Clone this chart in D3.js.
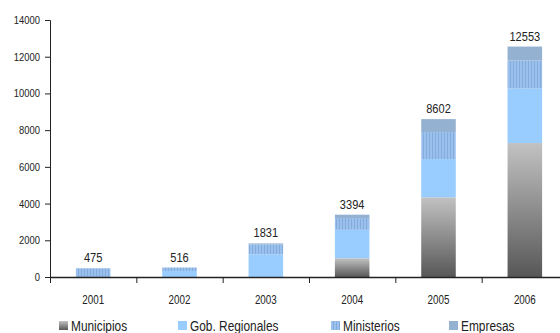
<!DOCTYPE html>
<html>
<head>
<meta charset="utf-8">
<script src="https://cdn.jsdelivr.net/npm/d3@7"></script>
<style>
  html, body { margin: 0; padding: 0; background: #fff; }
  svg { display: block; }
  text { font-family: "Liberation Sans Narrow", "Arial Narrow", "Liberation Sans", sans-serif; fill: #222; }
</style>
</head>
<body>
<svg id="chart" width="560" height="333"></svg>
<script>
// Transferencias por año y por tipo de entidad
const years = ["2001", "2002", "2003", "2004", "2005", "2006"];
const municipios     = [0, 0, 0, 1020, 4340, 7300];
const gobRegionales  = [0, 330, 1236, 1550, 2085, 2965];
const ministerios    = [475, 186, 535, 640, 1470, 1525];
const empresas       = [0, 0, 60, 184, 707, 763];
const totals         = [475, 516, 1831, 3394, 8602, 12553];
const yTicks         = [0, 2000, 4000, 6000, 8000, 10000, 12000, 14000];
const seriesNames    = ["Municipios", "Gob. Regionales", "Ministerios", "Empresas"];

const svg = d3.select("#chart");
const x0 = 50, x1 = 568, yTop = 20, yBase = 277;
const SQUEEZE = 0.82; // condensed lettering

const x = d3.scaleBand().domain(years).range([x0, x1]).paddingInner(0.6).paddingOuter(0.3);
const y = d3.scaleLinear().domain([0, 14000]).range([yBase, yTop]);

// Places a horizontally condensed label at (px, py)
function label(g, px, py, str, size, anchor) {
  return g.append("text")
    .attr("transform", `translate(${px},${py}) scale(${SQUEEZE},1)`)
    .attr("text-anchor", anchor || "start")
    .attr("font-size", size)
    .text(str);
}

// Fills: gradient for municipios, stripes for ministerios
const defs = svg.append("defs");
const grad = defs.append("linearGradient").attr("id", "gMuni")
  .attr("x1", 0).attr("y1", 0).attr("x2", 0).attr("y2", 1);
grad.append("stop").attr("offset", "0%").attr("stop-color", "#c2c2c2");
grad.append("stop").attr("offset", "100%").attr("stop-color", "#575757");

const pat = defs.append("pattern").attr("id", "pMin")
  .attr("patternUnits", "userSpaceOnUse").attr("width", 3).attr("height", 4);
pat.append("rect").attr("width", 3).attr("height", 4).attr("fill", "#9ac0ee");
pat.append("rect").attr("width", 1).attr("height", 4).attr("fill", "#86acdc");

const fills = ["url(#gMuni)", "#99ccff", "url(#pMin)", "#95b1d2"];

const rows = years.map((yr, i) => ({
  year: yr,
  Municipios: municipios[i],
  "Gob. Regionales": gobRegionales[i],
  Ministerios: ministerios[i],
  Empresas: empresas[i]
}));
const stack = d3.stack().keys(seriesNames)(rows);

stack.forEach((layer, k) => {
  svg.append("g").selectAll("rect")
    .data(layer.filter(d => d[1] > d[0]))
    .join("rect")
    .attr("x", d => x(d.data.year))
    .attr("width", x.bandwidth())
    .attr("y", d => y(d[1]))
    .attr("height", d => y(d[0]) - y(d[1]))
    .attr("fill", fills[k]);
});

// Totals above bars
const totG = svg.append("g");
years.forEach((yr, i) => {
  label(totG, x(yr) + x.bandwidth() / 2, y(totals[i]) - 6, totals[i], 13.5, "middle");
});

// Y axis
const yAxis = svg.append("g").attr("transform", `translate(${x0},0)`)
  .call(d3.axisLeft(y).tickValues(yTicks).tickSize(5).tickFormat(() => ""));
yAxis.selectAll("line, path").attr("stroke", "#222");
const yLab = svg.append("g");
yTicks.forEach(t => label(yLab, 40, y(t) + 4, d3.format("d")(t), 11.5, "end"));

// X axis: baseline with ticks at category boundaries
const step = x.step();
const bounds = d3.range(years.length + 1).map(i => x0 + i * step);
svg.append("line").attr("x1", x0).attr("x2", x1).attr("y1", yBase + 0.5).attr("y2", yBase + 0.5)
  .attr("stroke", "#222").attr("stroke-width", 1.3);
svg.append("g").selectAll("line").data(bounds).join("line")
  .attr("x1", d => d + 0.5).attr("x2", d => d + 0.5)
  .attr("y1", yBase).attr("y2", yBase + 6)
  .attr("stroke", "#222");
const xLab = svg.append("g");
years.forEach(yr => label(xLab, x(yr) + x.bandwidth() / 2, 304, yr, 12, "middle"));

// Legend
const legendX = [59, 178, 331, 449];
const lg = svg.append("g");
seriesNames.forEach((name, i) => {
  lg.append("rect").attr("x", legendX[i]).attr("y", 321).attr("width", 9).attr("height", 9)
    .attr("fill", fills[i]);
  label(lg, legendX[i] + 12, 331, name, 14.5, "start");
});
</script>
</body>
</html>
